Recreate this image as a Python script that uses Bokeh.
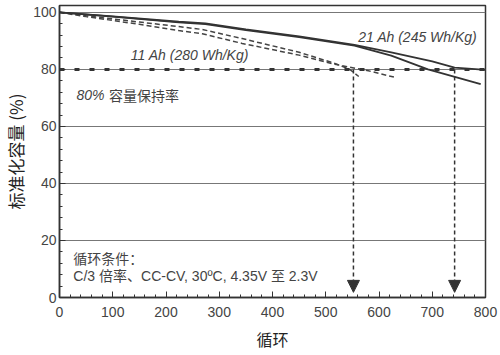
from bokeh.plotting import figure
from bokeh.models import Range1d, Arrow, NormalHead, Label, Span, FixedTicker, ColumnDataSource
from bokeh.embed import file_html
from bokeh.resources import INLINE

# 21 Ah (245 Wh/Kg) cells - solid lines
c21a_cycles = [0, 100, 224, 274, 350, 450, 554, 623, 692, 791]
c21a_cap = [100, 98.5, 96.5, 95.9, 93.8, 91.3, 88.3, 84.8, 80.0, 74.8]
c21b_cycles = [0, 100, 224, 274, 350, 450, 554, 623, 700, 742, 800]
c21b_cap = [100, 98.6, 96.7, 96.1, 94.0, 91.6, 88.6, 86.0, 82.8, 80.6, 79.8]

# 11 Ah (280 Wh/Kg) cells - dashed lines
c11a_cycles = [0, 50, 150, 224, 268, 343, 450, 517, 545, 562]
c11a_cap = [100, 98.8, 96.6, 95.0, 94.0, 90.8, 86.0, 82.1, 80.0, 77.5]
c11b_cycles = [0, 50, 150, 224, 268, 343, 450, 517, 580, 628]
c11b_cap = [100, 98.5, 95.8, 93.6, 92.5, 89.1, 85.0, 81.8, 79.5, 77.3]

retention = 80
cross_cycles = [552, 742]
x_ticks = [0, 100, 200, 300, 400, 500, 600, 700, 800]
y_ticks = [0, 20, 40, 60, 80, 100]

LAT = "Liberation Sans, Noto Sans CJK SC"
CJK = "Noto Sans CJK SC"
INK = "#333333"

p = figure(width=500, height=355, output_backend="svg", toolbar_location=None,
           x_range=Range1d(0, 800), y_range=Range1d(0, 102.4),
           min_border_left=56, min_border_right=15, min_border_top=5, min_border_bottom=58)
p.background_fill_color = "white"
p.border_fill_color = "white"
p.outline_line_color = INK
p.outline_line_width = 1.5

p.xgrid.visible = False
p.ygrid.ticker = FixedTicker(ticks=y_ticks)
p.ygrid.grid_line_color = "#777777"
p.ygrid.grid_line_width = 1

for ax in (p.xaxis[0], p.yaxis[0]):
    ax.axis_line_color = INK
    ax.axis_line_width = 1.5
    ax.major_tick_in = 6
    ax.major_tick_out = 0
    ax.minor_tick_in = 3
    ax.minor_tick_out = 0
    ax.major_tick_line_color = INK
    ax.minor_tick_line_color = INK
    ax.major_label_text_font = LAT
    ax.major_label_text_font_size = "14px"
    ax.major_label_text_color = "#444444"
    ax.axis_label_text_font = CJK
    ax.axis_label_text_font_style = "normal"
    ax.axis_label_text_color = "#222222"

p.xaxis.ticker = FixedTicker(ticks=x_ticks, minor_ticks=list(range(0, 801, 20)))
p.yaxis.ticker = FixedTicker(ticks=y_ticks, minor_ticks=list(range(0, 101, 4)))
p.xaxis.axis_label = "循环"
p.yaxis.axis_label = "标准化容量 (%)"
p.xaxis.axis_label_text_font_size = "16px"
p.yaxis.axis_label_text_font_size = "17px"
p.xaxis.major_label_standoff = 9
p.xaxis.axis_label_standoff = 7
p.yaxis.major_label_standoff = 3
p.yaxis.axis_label_standoff = 2

# 80% retention reference line
p.add_layout(Span(location=retention, dimension="width", line_color=INK,
                  line_width=3, line_dash="5 10"))

# curves
p.line(c11a_cycles, c11a_cap, line_color="#444444", line_width=1.5, line_dash="5 3")
p.line(c11b_cycles, c11b_cap, line_color="#444444", line_width=1.5, line_dash="5 3")
p.line(c21a_cycles, c21a_cap, line_color=INK, line_width=1.8)
p.line(c21b_cycles, c21b_cap, line_color=INK, line_width=1.8)

# arrows at 80% crossing
src = ColumnDataSource(dict(x0=cross_cycles, y0=[retention] * len(cross_cycles),
                            y1=[1.8] * len(cross_cycles)))
p.add_layout(Arrow(source=src, x_start="x0", y_start="y0", x_end="x0", y_end="y1",
                   line_color=INK, line_width=1.5, line_dash="4 3",
                   end=NormalHead(size=12, fill_color=INK, line_color=INK, line_width=1)))

def lab(x, y, t, font=LAT, style="italic", size="14px", baseline="middle"):
    p.add_layout(Label(x=x, y=y, text=t, text_font=font, text_font_style=style,
                       text_font_size=size, text_color="#444444", text_baseline=baseline))

lab(134, 85.0, "11 Ah (280 Wh/Kg)")
lab(561, 91.3, "21 Ah (245 Wh/Kg)")
lab(32, 71.0, "80%")
lab(93, 71.0, "容量保持率", font=CJK, style="normal")
lab(26, 14.0, "循环条件：", font=CJK, style="normal")
lab(26, 7.7, "C/3 倍率、CC-CV, 30ºC, 4.35V 至 2.3V", style="normal")

open("out.html", "w").write(file_html(p, INLINE))
